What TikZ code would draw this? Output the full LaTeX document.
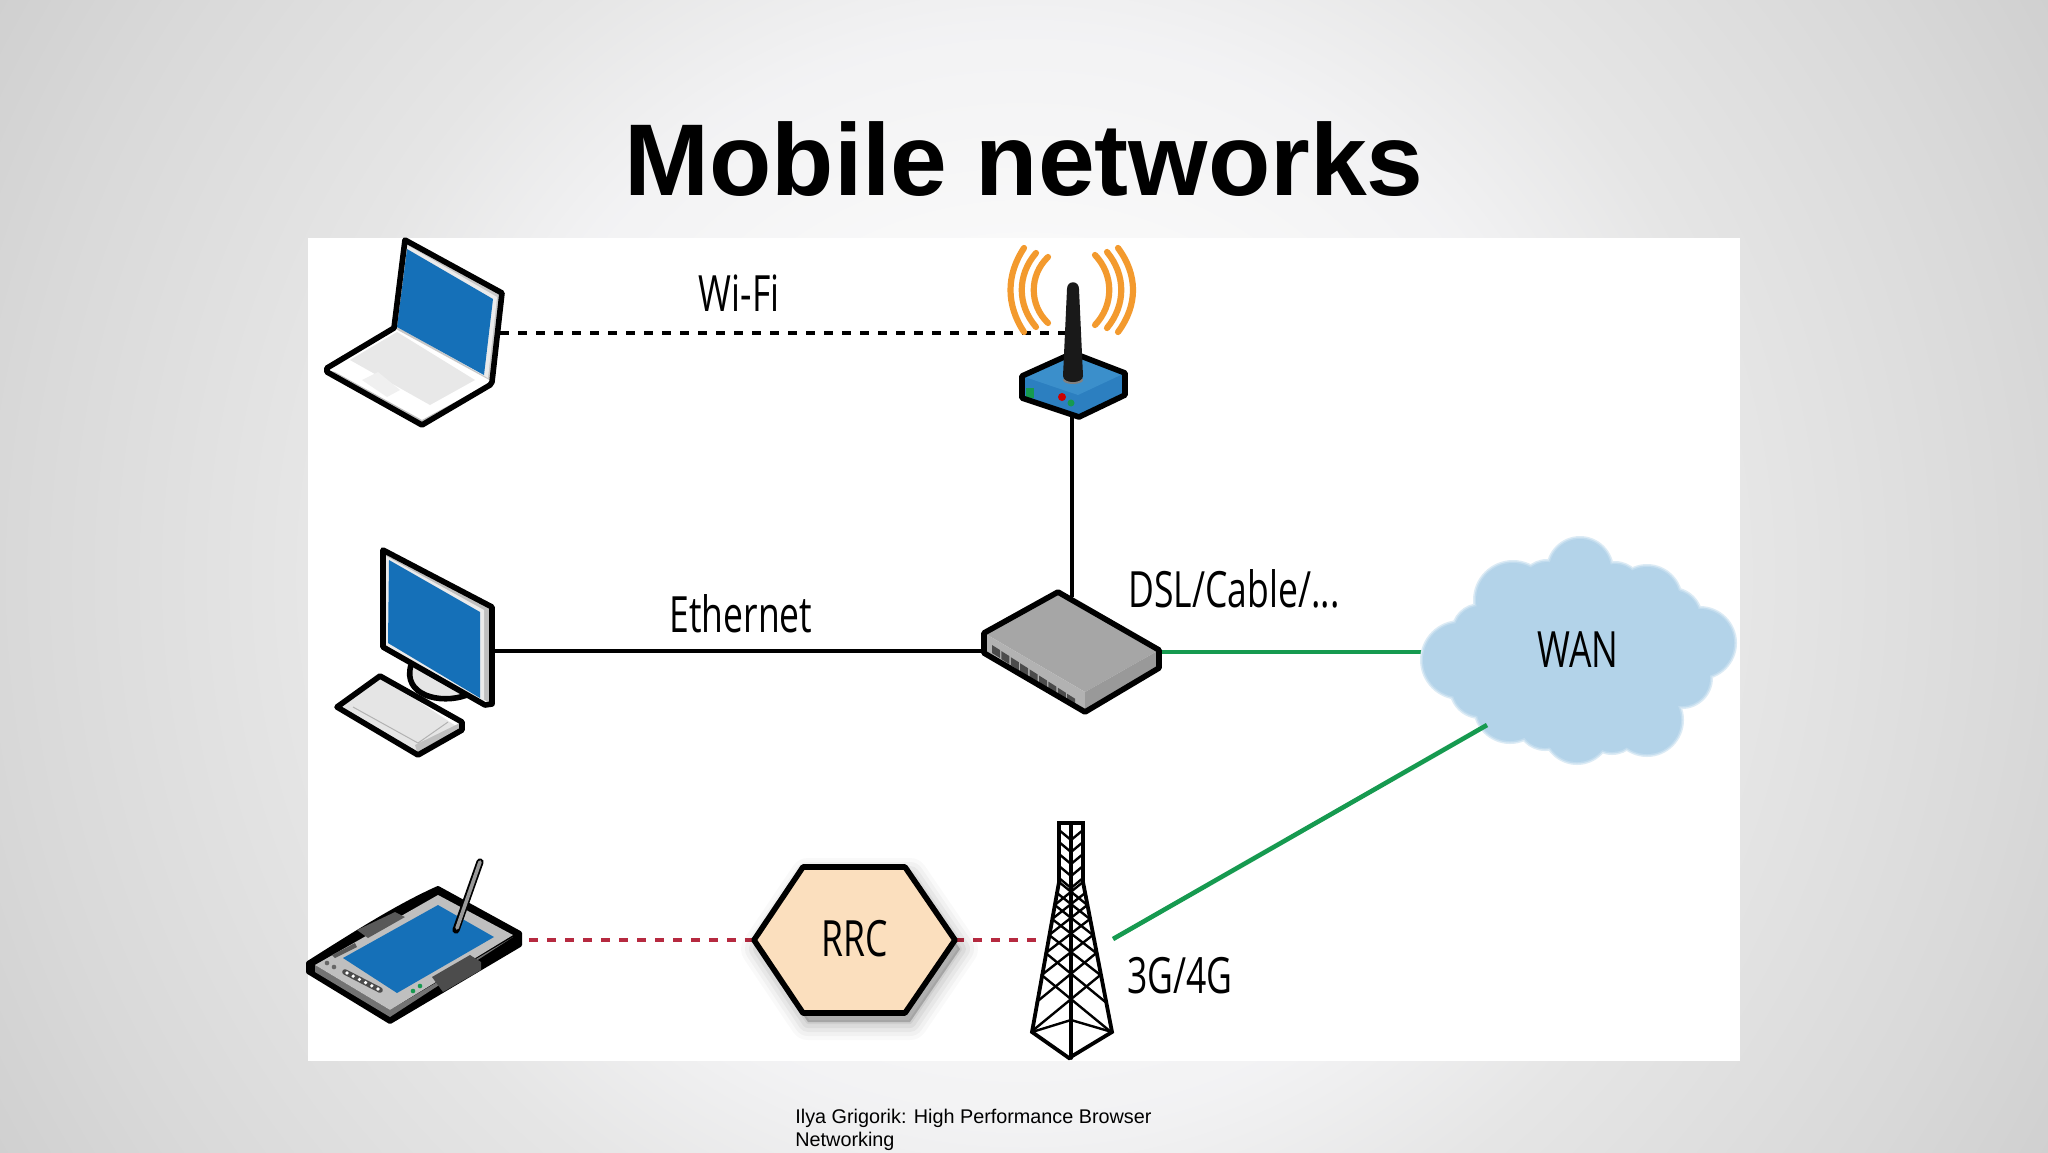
\documentclass[tikz,border=0pt]{standalone}
\usepackage{fontspec}
\setmainfont{Liberation Sans}
\newfontfamily\labfont[FakeStretch=0.71]{Open Sans}
\usetikzlibrary{calc}
\definecolor{scrblue}{HTML}{1570B8}
\definecolor{wingreen}{HTML}{169A50}
\definecolor{rrcred}{HTML}{B62A40}
\definecolor{wifiorange}{HTML}{F39A2E}
\definecolor{cloudblue}{HTML}{B3D3E9}
\definecolor{cloudmid}{HTML}{C2DCEE}
\definecolor{cloudhalo}{HTML}{DCEBF5}
\definecolor{hexfill}{HTML}{FBDFBE}
\definecolor{apside}{HTML}{2C7FC0}
\definecolor{aptop}{HTML}{3B8FCB}
\pgfdeclareradialshading{slidebg}{\pgfpoint{0bp}{0bp}}{%
  rgb(0bp)=(0.99,0.99,0.99);
  rgb(5.75bp)=(0.98,0.98,0.98);
  rgb(10.5bp)=(0.95,0.95,0.955);
  rgb(14bp)=(0.90,0.90,0.90);
  rgb(19.5bp)=(0.85,0.85,0.85);
  rgb(25bp)=(0.79,0.79,0.79);
  rgb(50bp)=(0.79,0.79,0.79)}
\tikzset{
  x=0.5pt,y=-0.5pt,
  outline/.style={draw=black,line width=2.8pt,line join=round},
  lab/.style={font=\labfont\fontsize{25}{25}\selectfont,anchor=base,inner sep=0pt},
  wirek/.style={draw=black,line width=2.2pt},
  wifidash/.style={draw=black,line width=2.3pt,dash pattern=on 4.5pt off 4.5pt},
  reddash/.style={draw=rrcred,line width=2.3pt,dash pattern=on 4.5pt off 4.5pt},
  greenwire/.style={draw=wingreen,line width=2.3pt},
  wave/.style={draw=wifiorange,line width=3.1pt,line cap=round},
  tower/.style={draw=black,line width=1.9pt,line cap=round},
  lattice/.style={line width=1.2pt}
}
\begin{document}
\begin{tikzpicture}
\useasboundingbox (0,0) rectangle (2048,1152);
\begin{scope}
\clip (0,0) rectangle (2048,1152);
\shade[shading=slidebg] (1024,576) circle [radius=1300];
\end{scope}
\fill[white] (308,238) rectangle (1740,1061);

\node[anchor=base,inner sep=0pt,font=\bfseries\fontsize{51}{51}\selectfont] (title) at (1024,195) {Mobile networks};
\node[anchor=north west,inner sep=0pt,align=left,font=\fontsize{9.9}{11.6}\selectfont] (credit) at (795,1109) {Ilya Grigorik: High Performance Browser\\Networking};

% anchors for connectors
\coordinate (laptopport) at (500,333);
\coordinate (apmast) at (1066,333);
\coordinate (apbottom) at (1072,417);
\coordinate (switchtop) at (1072,597);
\coordinate (pcport) at (492,651);
\coordinate (switchleft) at (985,651);
\coordinate (switchright) at (1159,652);
\coordinate (wanleft) at (1440,652);
\coordinate (wanlow) at (1487,725);
\coordinate (towerside) at (1113,939);
\coordinate (tabletport) at (529,940);
\coordinate (rrcleft) at (754,940);
\coordinate (rrcright) at (955,940);
\coordinate (towerfeed) at (1036,940);

% connectors
\draw[wifidash] (laptopport) -- (apmast);
\draw[wirek] (pcport) -- (switchleft);
\draw[wirek] (apbottom) -- (switchtop);
\draw[reddash] (tabletport) -- (rrcleft);
\draw[reddash] (rrcright) -- (towerfeed);
\draw[greenwire] (switchright) -- (wanleft);

% cloud
\foreach \ex/\col in {3/cloudhalo,1.5/cloudmid,0/cloudblue}
  \foreach \cx/\cy/\r in {1580/570/31,1513/600/37,1647/600/33,1700/643/34,1460/660/37,1510/707/34,1577/730/32,1647/720/34,1547/588/26,1615/590/26,1672/618/28,1480/632/26,1480/688/28,1545/722/26,1612/726/26,1682/678/28,1580/650/88,1500/660/42,1650/660/52}
    \fill[\col] (\cx,\cy) circle [radius={\r+\ex}];
\node[lab] (wan) at (1578,667) {WAN};
\draw[greenwire] (towerside) -- (wanlow);

% labels
\node[lab] (wifi) at (739,311) {Wi-Fi};
\node[lab] (ethernet) at (741,632) {Ethernet};
\node[lab] (dsl) at (1234,607) {DSL/Cable/...};
\node[lab] (cell) at (1180,993) {3G/4G};

% laptop
\fill[white] (394,328) -- (327,368) -- (422,425) -- (492,385) -- cycle;
\fill[black!9] (350,360) -- (397,332) -- (475,380) -- (430,405) -- cycle;
\fill[black!6] (362,380) -- (378,372) -- (400,390) -- (387,397) -- cycle;
\fill[black!25] (335,372) -- (422,420) -- (490,383) -- (490,387) -- (422,425) -- (327,370) -- cycle;
\fill[black!22] (405,240) -- (502,293) -- (493,382) -- (394,328) -- cycle;
\fill[white!92!black] (407,245) -- (497,297) -- (488,378) -- (396,326) -- cycle;
\fill[scrblue] (407,249) -- (493,299) -- (484,375) -- (397,327) -- cycle;
\draw[outline] (394,328) -- (327,368) -- (327,372) -- (422,425) -- (490,385) -- (492,382) -- (502,293) -- (405,240) -- cycle;

% access point
\foreach \a/\b/\c in {1024/248/1012,1036/253/1023,1048/257/1035}
  \draw[wave] (\a,\b) .. controls (\c-6,275) and (\c-6,305) .. (\a,{580-\b});
\foreach \a/\b/\c in {1118/248/1132,1107/252/1120,1095/255/1108}
  \draw[wave] (\a,\b) .. controls (\c+6,275) and (\c+6,305) .. (\a,{580-\b});
\fill[apside] (1022,376) -- (1073,353) -- (1125,373) -- (1125,395) -- (1079,417) -- (1022,398) -- cycle;
\fill[aptop] (1022,376) -- (1073,353) -- (1125,373) -- (1078,395) -- cycle;
\fill[wingreen] (1026,388) rectangle (1034,398);
\fill[red!80!black] (1062,397) circle [radius=4];
\fill[wingreen] (1071,403) circle [radius=3.5];
\draw[outline] (1022,376) -- (1073,353) -- (1125,373) -- (1125,395) -- (1079,417) -- (1022,398) -- cycle;
\fill[black!50] (1073,380) ellipse [x radius=10,y radius=4];
\fill[black!90] (1067,289) .. controls (1067,280) and (1079,280) .. (1079,289) -- (1083,376) .. controls (1083,384) and (1063,384) .. (1063,376) -- cycle;

% desktop
\fill[black!10] (408,677) .. controls (408,700) and (445,705) .. (467,695) -- (470,660) -- (415,640) -- cycle;
\draw[outline] (411,665) .. controls (402,695) and (440,705) .. (467,695);
\fill[black!25] (383,550) -- (492,607) -- (492,704) -- (383,647) -- cycle;
\fill[white!92!black] (386,556) -- (484,610) -- (484,702) -- (384,645) -- cycle;
\fill[scrblue] (389,560) -- (480,612) -- (480,698) -- (388,643) -- cycle;
\draw[outline] (383,550) -- (492,607) -- (492,704) -- (485,705) -- (383,647) -- cycle;
\fill[black!10] (380,676) -- (337,707) -- (418,755) -- (462,730) -- cycle;
\fill[black!25] (418,755) -- (462,730) -- (462,722) -- (415,745) -- cycle;
\draw[black!30,line width=0.5pt] (353,707) -- (418,743) -- (448,722);
\draw[outline] (380,676) -- (337,707) -- (418,755) -- (462,730) -- (462,722) -- cycle;

% switch
\fill[black!35] (984,633) -- (1058,592) -- (1159,650) -- (1085,692) -- cycle;
\fill[black!30] (984,633) -- (1085,692) -- (1085,712) -- (984,653) -- cycle;
\fill[black!40] (1085,692) -- (1159,650) -- (1159,668) -- (1085,712) -- cycle;
\foreach \i in {0,...,8}
  \fill[black!70] ({992+9.4*\i},{645+6.1*\i}) -- ({1000+9.4*\i},{650+6.1*\i}) -- ({1000+9.4*\i},{658+6.1*\i}) -- ({992+9.4*\i},{653+6.1*\i}) -- cycle;
\draw[outline] (984,633) -- (1058,592) -- (1159,650) -- (1159,668) -- (1085,712) -- (984,653) -- cycle;

% tablet
\fill[black] (308,963) .. controls (360,930) and (400,905) .. (438,888) -- (520,933) -- (520,945) -- (390,1022) -- (308,972) -- cycle;
\draw[black,line width=2pt,line join=round] (308,963) .. controls (360,930) and (400,905) .. (438,888) -- (520,933) -- (520,945) -- (390,1022) -- (308,972) -- cycle;
\fill[black!55] (315,965) -- (390,1010) -- (513,937) -- (390,1017) -- (315,972) -- cycle;
\fill[black!25] (315,965) -- (438,895) -- (513,935) -- (390,1010) -- cycle;
\fill[scrblue] (343,958) -- (438,905) -- (494,937) -- (397,993) -- cycle;
\fill[black!65] (357,930) -- (395,912) -- (405,917) -- (368,938) -- cycle;
\fill[black!70] (432,977) -- (470,955) -- (481,962) -- (481,970) -- (443,992) -- cycle;
\fill[black!65] (332,955) -- (355,943) -- (357,947) -- (335,958) -- cycle;
\draw[black!70,line width=2.8pt,line cap=round] (345,972) -- (380,990);
\foreach \i in {0,...,5}
  \fill[white] ({347+6.2*\i},{973+3.2*\i}) circle [radius=1.8];
\fill[black!60] (327,963) circle [radius=2.3];
\fill[black!60] (334,967) circle [radius=2.3];
\fill[wingreen] (413,991) circle [radius=2.3];
\fill[wingreen] (420,986) circle [radius=2.3];
\draw[black,line width=3.6pt,line cap=round] (480,862) -- (456,930);
\draw[black!40,line width=1.8pt,line cap=round] (480,862) -- (457,928);

% RRC hexagon
\foreach \w/\o in {18/0.025,14/0.03,10/0.04,6/0.05,2/0.06}
  \fill[black,opacity=\o,draw=black,line width=\w pt,line join=round,shift={(5,9)}]
    (754,940) -- (803,867) -- (905,867) -- (955,940) -- (905,1013) -- (803,1013) -- cycle;
\fill[hexfill] (754,940) -- (803,867) -- (905,867) -- (955,940) -- (905,1013) -- (803,1013) -- cycle;
\draw[outline] (754,940) -- (803,867) -- (905,867) -- (955,940) -- (905,1013) -- (803,1013) -- cycle;
\node[lab] (rrc) at (855,956) {RRC};

% tower
\begin{scope}[tower]
\draw (1059,882) -- (1059,823) -- (1083,823) -- (1083,882);
\draw (1071,823) -- (1071,1058);
\draw (1059,882) -- (1032,1032) -- (1069,1058) -- (1112,1032) -- (1083,882);
\foreach \yy in {830,842,854,866,878} {
  \draw[lattice] (1059,\yy) -- (1071,\yy+10) -- (1083,\yy);
}
\foreach \ya/\yb in {882/905,893/919,905/935,919/953,935/975,953/1002,975/1032} {
  \pgfmathsetmacro\ha{12+(\ya-882)*0.187}
  \pgfmathsetmacro\hb{12+(\yb-882)*0.187}
  \draw[lattice] ({1071-\ha},\ya) -- ({1071+\hb},\yb);
  \draw[lattice] ({1071+\ha},\ya) -- ({1071-\hb},\yb);
}
\draw[lattice] (1032,1032) -- (1071,1020) -- (1112,1032);
\end{scope}
\end{tikzpicture}
\end{document}
